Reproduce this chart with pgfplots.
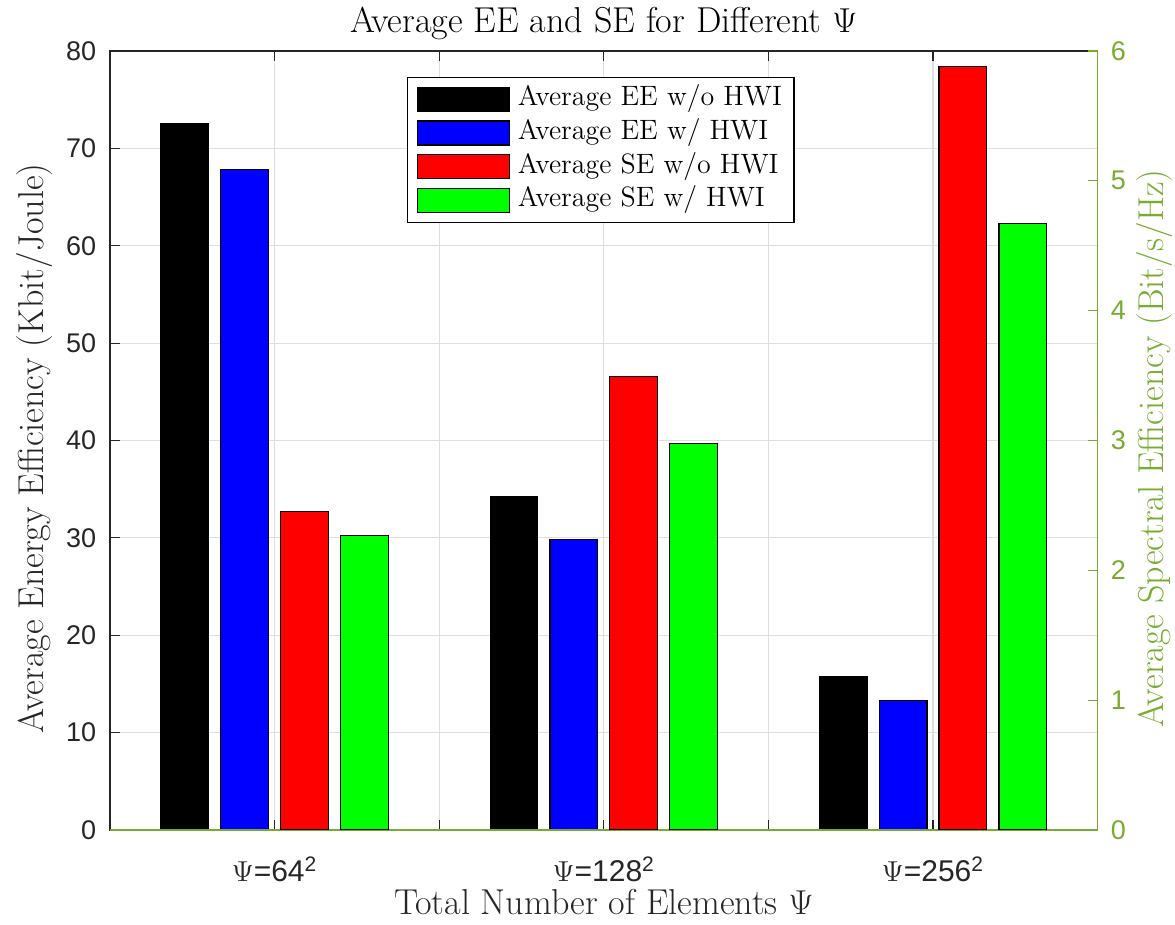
\documentclass[border=0pt]{standalone}
\usepackage{pgfplots}
\pgfplotsset{compat=1.18}
\usepackage{fontspec}
\newfontfamily\ticksans{Liberation Sans}
\definecolor{mgreen}{RGB}{119,172,48}
\definecolor{gridc}{RGB}{222,222,222}
\definecolor{axc}{RGB}{38,38,38}
\pgfplotsset{
  barleg/.style={legend image code/.code={\draw[##1,/tikz/.cd,draw=black,line width=0.6pt] (0pt,-6pt) rectangle (46pt,6pt);}},
}
\begin{document}
\begin{tikzpicture}
\path[use as bounding box] (-55pt,-47.5pt) rectangle (532.5pt,415pt);
\begin{axis}[
  at={(0,0)}, anchor=south west,
  scale only axis, width=493.8pt, height=389.5pt,
  xmin=0.5, xmax=3.5, ymin=0, ymax=80,
  xtick={1,1.5,2,2.5,3},
  xticklabels={{$\Psi$=64\textsuperscript{2}},{},{$\Psi$=128\textsuperscript{2}},{},{$\Psi$=256\textsuperscript{2}}},
  ytick={0,10,...,80},
  ytick pos=left,
  tick align=inside,
  major tick length=5pt,
  grid=major,
  major grid style={gridc, line width=0.6pt},
  axis line style={axc, line width=0.6pt},
  tick style={axc, line width=0.6pt},
  ticklabel style={font=\ticksans\fontsize{13.5}{16}\selectfont, text=axc},
  /pgf/number format/assume math mode=true,
  yticklabel style={anchor=east, inner sep=0pt, xshift=-6.7pt},
  xticklabel style={anchor=base, inner sep=0pt, yshift=-26pt, font=\ticksans\fontsize{15}{18}\selectfont},
  ylabel={Average Energy Efficiency (Kbit/Joule)},
  ylabel style={at={(rel axis cs:-0.076,0.49)}, anchor=center, font=\fontsize{18}{21}\selectfont, text=axc},
  xlabel={Total Number of Elements $\Psi$},
  xlabel style={at={(rel axis cs:0.5,0)}, anchor=base, yshift=-42.5pt, font=\fontsize{18}{21}\selectfont, text=axc},
  title={Average EE and SE for Different $\Psi$},
  title style={at={(rel axis cs:0.5,1)}, anchor=base, yshift=3.5pt, font=\fontsize{18}{21}\selectfont, text=black},
]
\addplot[ybar, bar width=0.145, bar shift=-0.2727, fill=black, draw=black, line width=0.6pt]
  coordinates {(1,72.5) (2,34.2) (3,15.75)};
\addplot[ybar, bar width=0.145, bar shift=-0.0909, fill=blue, draw=black, line width=0.6pt]
  coordinates {(1,67.8) (2,29.85) (3,13.3)};
\end{axis}
\begin{axis}[
  at={(0,0)}, anchor=south west,
  scale only axis, width=493.8pt, height=389.5pt,
  xmin=0.5, xmax=3.5, ymin=0, ymax=6,
  axis y line*=right, axis x line*=bottom,
  xtick=\empty,
  ytick={0,1,...,6},
  tick align=inside,
  major tick length=5pt,
  axis line style={mgreen, line width=0.6pt},
  tick style={mgreen, line width=0.6pt},
  ticklabel style={font=\ticksans\fontsize{13.5}{16}\selectfont, text=mgreen},
  /pgf/number format/assume math mode=true,
  yticklabel style={anchor=west, inner sep=0pt, xshift=6.5pt},
  ylabel={Average Spectral Efficiency (Bit/s/Hz)},
  ylabel style={at={(rel axis cs:1.058,0.49)}, anchor=center, font=\fontsize{18}{21}\selectfont, text=mgreen},
  legend style={
    at={(rel axis cs:0.3007,0.967)}, anchor=north west,
    draw=black, line width=0.6pt, fill=white,
    font=\fontsize{14}{16}\selectfont,
    inner xsep=4.5pt, inner ysep=2.8pt,
    row sep=0.3pt, column sep=2.5pt,
    cells={anchor=west},
    nodes={inner sep=1.5pt, text height=10pt, text depth=3.5pt},
  },
]
\addlegendimage{barleg, fill=black}
\addlegendentry{Average EE w/o HWI}
\addlegendimage{barleg, fill=blue}
\addlegendentry{Average EE w/ HWI}
\addplot[ybar, bar width=0.145, bar shift=0.0909, fill=red, draw=black, line width=0.6pt, barleg]
  coordinates {(1,2.455) (2,3.49) (3,5.88)};
\addlegendentry{Average SE w/o HWI}
\addplot[ybar, bar width=0.145, bar shift=0.2727, fill=green, draw=black, line width=0.6pt, barleg]
  coordinates {(1,2.27) (2,2.975) (3,4.67)};
\addlegendentry{Average SE w/ HWI}
\end{axis}
\end{tikzpicture}
\end{document}
